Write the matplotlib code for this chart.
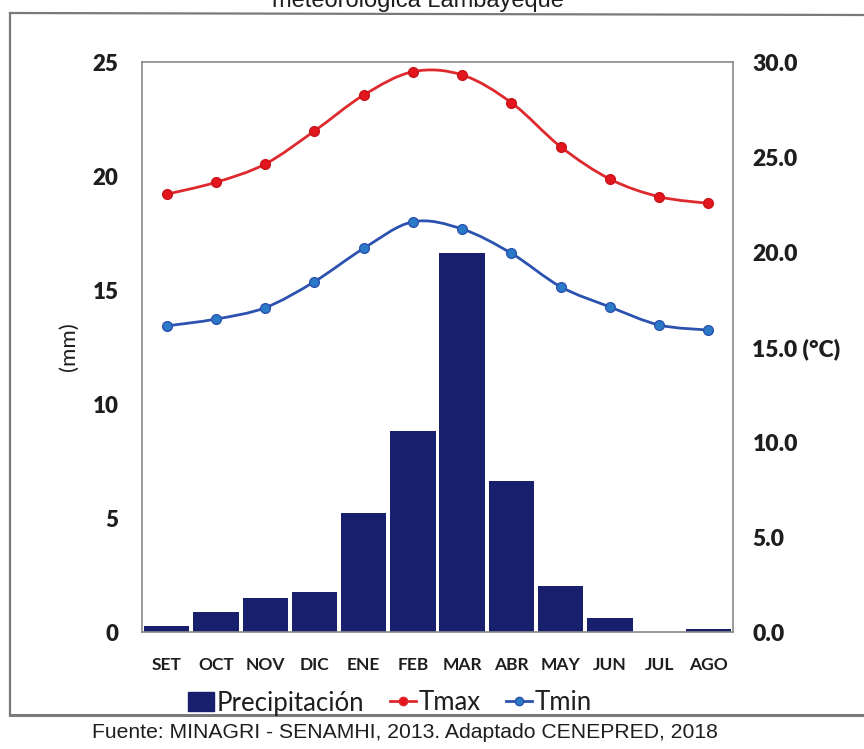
import numpy as np
import matplotlib
matplotlib.use("Agg")
import matplotlib.pyplot as plt
from matplotlib.path import Path
from matplotlib.patches import PathPatch, Patch
from matplotlib.lines import Line2D

plt.rcParams['font.family'] = ['Lato', 'DejaVu Sans']

# data
meses = ['SET', 'OCT', 'NOV', 'DIC', 'ENE', 'FEB', 'MAR', 'ABR', 'MAY', 'JUN', 'JUL', 'AGO']
precip = [0.26, 0.86, 1.5, 1.77, 5.2, 8.82, 16.64, 6.62, 2.02, 0.63, 0.0, 0.12]
tmax = [23.04, 23.67, 24.63, 26.37, 28.26, 29.49, 29.32, 27.86, 25.54, 23.84, 22.91, 22.56]
tmin = [16.11, 16.47, 17.07, 18.44, 20.19, 21.59, 21.21, 19.93, 18.17, 17.11, 16.16, 15.89]

c_bar = '#18206e'
c_max = '#de2a2e'
c_min = '#2c52b0'
c_min_mk = '#2a7ac8'
c_txt = '#1e1e1e'


def smooth_path(xs, ys):
    # Excel-like smoothed line: cubic bezier through every point
    xs = np.asarray(xs, float)
    ys = np.asarray(ys, float)
    n = len(xs)
    verts = [(xs[0], ys[0])]
    codes = [Path.MOVETO]
    for i in range(n - 1):
        i0 = max(i - 1, 0)
        i3 = min(i + 2, n - 1)
        c1 = (xs[i] + (xs[i + 1] - xs[i0]) / 6, ys[i] + (ys[i + 1] - ys[i0]) / 6)
        c2 = (xs[i + 1] - (xs[i3] - xs[i]) / 6, ys[i + 1] - (ys[i3] - ys[i]) / 6)
        verts += [c1, c2, (xs[i + 1], ys[i + 1])]
        codes += [Path.CURVE4] * 3
    return Path(verts, codes)


fig = plt.figure(figsize=(8.64, 7.49), dpi=100)
ax = fig.add_axes([0.1644, 0.1562, 0.6840, 0.7610])
x = np.arange(len(meses))
ax.bar(x, precip, width=0.92, color=c_bar, zorder=2)
ax.set_xlim(-0.5, 11.5)
ax.set_ylim(0, 25)
ax.set_yticks([0, 5, 10, 15, 20, 25])
ax.set_xticks(x)
ax.set_xticklabels(meses, fontsize=12.5, fontweight='bold', color=c_txt)
ax.tick_params(axis='both', length=0)
ax.tick_params(axis='y', pad=17, labelsize=16, labelcolor=c_txt)
ax.tick_params(axis='x', pad=18)
for t in ax.get_yticklabels():
    t.set_fontweight('heavy')
ax.set_ylabel('(mm)', fontsize=16, color=c_txt, labelpad=10)
for s in ax.spines.values():
    s.set_color('#8a8a8a')
    s.set_linewidth(1.2)

ax2 = ax.twinx()
ax2.set_ylim(0, 30)
ax2.set_yticks([0, 5, 10, 15, 20, 25, 30])
ax2.set_yticklabels(['0.0', '5.0', '10.0', '15.0 (°C)', '20.0', '25.0', '30.0'])
ax2.tick_params(axis='y', length=0, pad=14, labelsize=16.5, labelcolor=c_txt)
for t in ax2.get_yticklabels():
    t.set_fontweight('heavy')
for s in ax2.spines.values():
    s.set_visible(False)

ax2.add_patch(PathPatch(smooth_path(x, tmax), fill=False, edgecolor=c_max, lw=2.0, zorder=3))
ax2.add_patch(PathPatch(smooth_path(x, tmin), fill=False, edgecolor=c_min, lw=2.0, zorder=3))
ax2.plot(x, tmax, 'o', color='#e3161e', ms=7, mec='#c8141b', zorder=4)
ax2.plot(x, tmin, 'o', color=c_min_mk, ms=7, mec=c_min, zorder=4)

handles = [
    Patch(facecolor=c_bar, edgecolor=c_bar),
    Line2D([], [], color=c_max, lw=2, marker='o', ms=6, mfc='#e3161e'),
    Line2D([], [], color=c_min, lw=2, marker='o', ms=6, mfc=c_min_mk),
]
fig.legend(handles, ['Precipitación', 'Tmax', 'Tmin'], loc='center',
           bbox_to_anchor=(390 / 864, 1 - 703 / 749), ncol=3, frameon=False,
           fontsize=18.5, handlelength=1.0, handleheight=0.75, handletextpad=0.1,
           columnspacing=1.0, borderaxespad=0, labelcolor=c_txt)

# outer frame of the scanned figure
frame_col = '#7a7a7a'
fig.add_artist(Line2D([10 / 864, 1.0], [1 - 13 / 749, 1 - 15 / 749], color=frame_col, lw=1.6))
fig.add_artist(Line2D([10 / 864, 10 / 864], [1 - 13 / 749, 1 - 715 / 749], color=frame_col, lw=1.6))
fig.add_artist(Line2D([10 / 864, 1.0], [1 - 715 / 749, 1 - 715 / 749], color=frame_col, lw=2.2))

fig.text(418 / 864, 1 - 1 / 749, 'meteorológica Lambayeque', ha='center', va='center',
         fontsize=17, family=['Liberation Sans', 'DejaVu Sans'], color=c_txt)
fig.text(405 / 864, 1 - 733 / 749, 'Fuente: MINAGRI - SENAMHI, 2013. Adaptado CENEPRED, 2018',
         ha='center', va='center', fontsize=15.2, family=['Liberation Sans', 'DejaVu Sans'],
         color=c_txt)

fig.savefig('out.png', dpi=100)
